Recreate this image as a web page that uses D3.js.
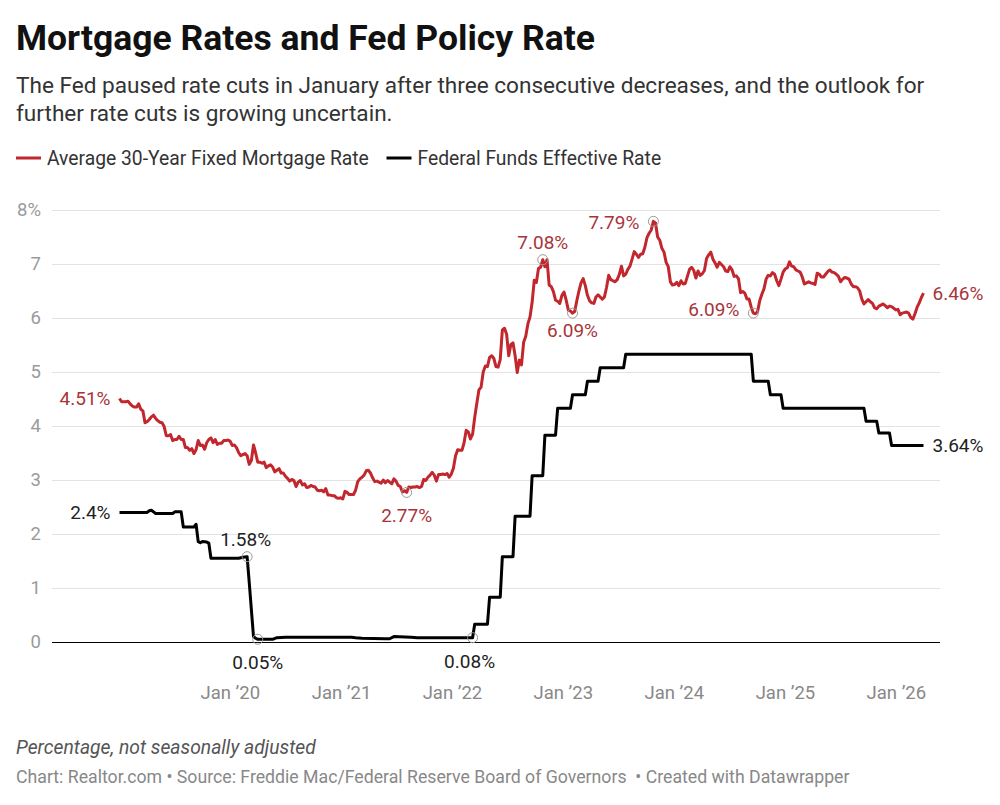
<!DOCTYPE html>
<html>
<head>
<meta charset="utf-8">
<script src="https://cdn.jsdelivr.net/npm/d3@7"></script>
<style>
  body { margin: 0; background: #fff; }
  svg  { display: block; font-family: Roboto, "Noto Sans", sans-serif; }
  .pre { white-space: pre; }
</style>
</head>
<body>
<svg id="chart" width="1000" height="805"></svg>
<script>
/* ------------------------------------------------------------------
   Data  (weekly Freddie Mac PMMS, first week = 2019-01-03)
   ------------------------------------------------------------------ */
const mortgageStart = "2019-01-03";

const mort2019 = [4.51,4.45,4.45,4.45,4.46,4.41,4.37,4.35,4.35,4.41,4.31,4.28,4.06,4.08,4.12,4.17,4.20,4.14,4.10,4.07,4.06,3.99,3.82,3.82,3.84,3.73,3.75,3.75,3.81,3.75,3.75,3.60,3.60,3.55,3.58,3.49,3.56,3.73,3.64,3.65,3.57,3.69,3.75,3.78,3.69,3.75,3.66,3.68,3.68,3.73,3.73,3.74];
const mort2020 = [3.72,3.64,3.65,3.60,3.51,3.45,3.47,3.49,3.45,3.29,3.36,3.65,3.50,3.33,3.33,3.31,3.33,3.23,3.26,3.28,3.24,3.15,3.18,3.21,3.13,3.13,3.07,3.03,2.98,3.01,2.99,2.88,2.96,2.99,2.91,2.93,2.86,2.87,2.90,2.88,2.87,2.81,2.80,2.81,2.78,2.84,2.72,2.72,2.71,2.71,2.67,2.66,2.67];
const mort2021 = [2.65,2.79,2.77,2.73,2.73,2.73,2.81,2.97,3.02,3.05,3.09,3.17,3.18,3.13,3.04,2.97,2.98,2.96,2.94,3.00,2.95,2.99,2.96,2.93,3.02,2.98,2.90,2.88,2.78,2.80,2.77,2.87,2.86,2.87,2.87,2.88,2.86,2.88,3.01,2.99,3.05,3.09,3.14,3.09,2.98,3.10,3.10,3.11,3.10,3.12,3.05,3.11];
const mort2022 = [3.22,3.45,3.56,3.55,3.55,3.69,3.92,3.89,3.76,3.85,4.16,4.42,4.67,4.72,5.00,5.11,5.10,5.27,5.30,5.25,5.10,5.09,5.23,5.78,5.81,5.70,5.30,5.51,5.54,5.30,4.99,5.22,5.13,5.55,5.66,5.89,6.02,6.29,6.70,6.66,6.92,6.94,7.08,6.95,7.08,6.61,6.58,6.49,6.33,6.31,6.27,6.42];
const mort2023 = [6.48,6.33,6.15,6.13,6.09,6.12,6.32,6.50,6.65,6.73,6.60,6.42,6.32,6.28,6.27,6.39,6.43,6.39,6.35,6.39,6.57,6.79,6.71,6.69,6.67,6.71,6.81,6.96,6.78,6.81,6.90,6.96,7.09,7.23,7.18,7.12,7.18,7.19,7.31,7.49,7.57,7.63,7.79,7.76,7.50,7.44,7.29,7.22,7.03,6.95,6.67,6.61];
const mort2024 = [6.62,6.66,6.60,6.69,6.63,6.64,6.77,6.90,6.94,6.88,6.74,6.87,6.79,6.82,6.88,7.10,7.17,7.22,7.09,7.02,6.94,7.03,6.99,6.95,6.87,6.86,6.95,6.89,6.77,6.78,6.73,6.47,6.49,6.46,6.35,6.35,6.20,6.09,6.08,6.12,6.32,6.44,6.54,6.72,6.79,6.78,6.84,6.81,6.69,6.60,6.72,6.85];
const mort2025 = [6.91,6.93,7.04,6.96,6.95,6.89,6.87,6.85,6.76,6.63,6.65,6.67,6.65,6.64,6.62,6.83,6.81,6.76,6.76,6.81,6.86,6.89,6.85,6.84,6.81,6.77,6.67,6.72,6.75,6.74,6.72,6.63,6.58,6.58,6.56,6.50,6.35,6.26,6.30,6.34,6.30,6.27,6.19,6.17,6.22,6.24,6.26,6.23,6.19,6.22,6.21,6.18,6.15];
const mort2026 = [6.16,6.06,6.09,6.10,6.11,6.09,6.01,5.98,6.08,6.20,6.28,6.38,6.46];

/* Federal funds effective rate: [week, level] at every change */
const fedRate = [
  ["2019-01-03",2.40],["2019-04-04",2.40],["2019-04-11",2.43],["2019-04-18",2.44],["2019-04-25",2.41],
  ["2019-05-02",2.38],["2019-06-27",2.38],["2019-07-04",2.41],["2019-07-25",2.41],["2019-08-01",2.13],
  ["2019-09-05",2.13],["2019-09-12",2.18],["2019-09-19",1.86],["2019-09-26",1.84],["2019-10-03",1.86],
  ["2019-10-17",1.85],["2019-10-24",1.83],["2019-10-31",1.55],["2020-01-30",1.55],["2020-02-13",1.57],
  ["2020-02-27",1.58],["2020-03-05",1.10],["2020-03-12",0.60],["2020-03-19",0.10],["2020-03-26",0.07],
  ["2020-04-02",0.05],["2020-05-21",0.05],["2020-06-04",0.08],["2020-07-02",0.09],["2021-02-04",0.09],
  ["2021-02-18",0.08],["2021-03-11",0.07],["2021-05-27",0.06],["2021-06-10",0.06],["2021-06-24",0.10],
  ["2021-08-19",0.09],["2021-09-09",0.08],["2022-03-10",0.08],["2022-03-17",0.33],["2022-04-28",0.33],
  ["2022-05-05",0.83],["2022-06-09",0.83],["2022-06-16",1.58],["2022-07-21",1.58],["2022-07-28",2.33],
  ["2022-09-15",2.33],["2022-09-22",3.08],["2022-10-27",3.08],["2022-11-03",3.83],["2022-12-08",3.83],
  ["2022-12-15",4.33],["2023-01-26",4.33],["2023-02-02",4.58],["2023-03-16",4.58],["2023-03-23",4.83],
  ["2023-04-27",4.83],["2023-05-04",5.08],["2023-07-20",5.08],["2023-07-27",5.33],["2024-09-12",5.33],
  ["2024-09-19",4.83],["2024-11-07",4.83],["2024-11-14",4.58],["2024-12-19",4.58],["2024-12-26",4.33],
  ["2025-09-18",4.33],["2025-09-25",4.09],["2025-10-30",4.09],["2025-11-06",3.87],["2025-12-11",3.87],
  ["2025-12-18",3.64],["2026-04-02",3.64]
];

const yTicks = [0,1,2,3,4,5,6,7,8];
const xTickYears = [2020,2021,2022,2023,2024,2025,2026];

/* highlighted values: [series, date, value, text, marker?] */
const highlights = [
  ["m","2019-01-03",4.51,"4.51%",false],
  ["m","2021-08-05",2.77,"2.77%",true],
  ["m","2022-10-27",7.08,"7.08%",true],
  ["m","2023-02-02",6.09,"6.09%",true],
  ["m","2023-10-26",7.79,"7.79%",true],
  ["m","2024-09-19",6.09,"6.09%",true],
  ["m","2026-04-02",6.46,"6.46%",false],
  ["f","2019-01-03",2.40,"2.4%",false],
  ["f","2020-02-27",1.58,"1.58%",true],
  ["f","2020-04-02",0.05,"0.05%",true],
  ["f","2022-03-10",0.08,"0.08%",true],
  ["f","2026-04-02",3.64,"3.64%",false]
];

/* ------------------------------------------------------------------
   Layout / style
   ------------------------------------------------------------------ */
const RED = "#c1272d", RED_TXT = "#a8343a", INK = "#222";
const gridL = 52, gridR = 940;
const LABEL_PX = 19;
// label placement (anchor, dx, dy) by index of highlights
const place = [
  ["end",-9,0], ["middle",0,23], ["middle",0,-17], ["middle",0,17], ["end",-14,1], ["end",-14,-4], ["start",9,0],
  ["end",-9,0], ["middle",-1.5,-17], ["middle",0,23], ["middle",-3,24], ["start",9,0]
];

const parse = d3.timeParse("%Y-%m-%d");
const t0 = parse(mortgageStart);
const mortgage = [].concat(mort2019,mort2020,mort2021,mort2022,mort2023,mort2024,mort2025,mort2026)
  .map((v,i)=>({date:d3.timeDay.offset(t0,7*i), value:v}));
const fed = fedRate.map(([d,v])=>({date:parse(d), value:v}));

const x = d3.scaleTime()
  .domain([t0, mortgage[mortgage.length-1].date])
  .range([119.5, 923.5]);
const y = d3.scaleLinear().domain([0,8]).range([642,210]);

const svg = d3.select("#chart");

/* ---------- header ---------- */
svg.append("text").attr("x",16).attr("y",50)
  .attr("font-size",35.5).attr("font-weight",700).attr("fill","#111")
  .text("Mortgage Rates and Fed Policy Rate");

const sub = ["The Fed paused rate cuts in January after three consecutive decreases, and the outlook for",
             "further rate cuts is growing uncertain."];
svg.append("g").selectAll("text").data(sub).join("text")
  .attr("x",16).attr("y",(d,i)=>93+i*28)
  .attr("font-size",22.6).attr("fill","#333").text(d=>d);

/* ---------- legend ---------- */
const legend = [["Average 30-Year Fixed Mortgage Rate",RED,16],["Federal Funds Effective Rate","#000",386.5]];
const lg = svg.append("g").selectAll("g").data(legend).join("g")
  .attr("transform",d=>`translate(${d[2]},158)`);
lg.append("line").attr("x1",0).attr("x2",25).attr("stroke",d=>d[1]).attr("stroke-width",3);
lg.append("text").attr("x",31).attr("dy","0.35em").attr("font-size",19.3).attr("fill","#333").text(d=>d[0]);

/* ---------- grid + axes ---------- */
svg.append("g").attr("transform",`translate(${gridL},0)`)
  .call(d3.axisLeft(y).tickValues(yTicks).tickSize(-(gridR-gridL)).tickFormat(""))
  .call(g=>g.select(".domain").remove())
  .call(g=>g.selectAll(".tick line").attr("stroke",d=>d===0?"#000":"#e3e3e3").attr("stroke-width",1));

svg.append("g").attr("transform","translate(41,0)")
  .call(d3.axisLeft(y).tickValues(yTicks).tickSize(0).tickPadding(0).tickFormat(d=>d===8?"8%":d))
  .call(g=>g.select(".domain").remove())
  .call(g=>g.selectAll("text").attr("font-family","Roboto").attr("font-size",18.5).attr("fill","#9a9a9a"));

svg.append("g").attr("transform","translate(0,642)")
  .call(d3.axisBottom(x).tickValues(xTickYears.map(yr=>new Date(yr,0,1))).tickSize(0).tickPadding(44)
        .tickFormat(d=>"Jan \u2019"+d3.timeFormat("%y")(d)))
  .call(g=>g.select(".domain").remove())
  .call(g=>g.selectAll("text").attr("font-family","Roboto").attr("font-size",18.5).attr("fill","#888"));

/* ---------- lines ---------- */
const line = d3.line().x(d=>x(d.date)).y(d=>y(d.value));
svg.append("path").datum(fed).attr("d",line)
  .attr("fill","none").attr("stroke","#000").attr("stroke-width",3).attr("stroke-linejoin","round");
svg.append("path").datum(mortgage).attr("d",line)
  .attr("fill","none").attr("stroke",RED).attr("stroke-width",3).attr("stroke-linejoin","round");

/* ---------- highlights ---------- */
const hl = highlights.map((h,i)=>({s:h[0], date:parse(h[1]), value:h[2], text:h[3], marker:h[4], p:place[i]}));
svg.append("g").selectAll("circle").data(hl.filter(d=>d.marker)).join("circle")
  .attr("cx",d=>x(d.date)).attr("cy",d=>y(d.value)).attr("r",5)
  .attr("fill","none").attr("stroke","#999").attr("stroke-width",1);
svg.append("g").selectAll("text").data(hl).join("text")
  .attr("x",d=>x(d.date)+d.p[1]).attr("y",d=>y(d.value)+d.p[2]).attr("dy","0.35em")
  .attr("text-anchor",d=>d.p[0]).attr("font-size",LABEL_PX)
  .attr("fill",d=>d.s==="m"?RED_TXT:INK).text(d=>d.text);

/* ---------- footer ---------- */
svg.append("text").attr("x",16).attr("y",754).attr("font-size",19.3).attr("font-style","italic")
  .attr("fill","#555").text("Percentage, not seasonally adjusted");
svg.append("text").attr("x",16).attr("y",783).attr("font-size",17.7).attr("fill","#888").attr("class","pre")
  .text("Chart: Realtor.com \u2022 Source: Freddie Mac/Federal Reserve Board of Governors  \u2022 Created with Datawrapper");
</script>
</body>
</html>
